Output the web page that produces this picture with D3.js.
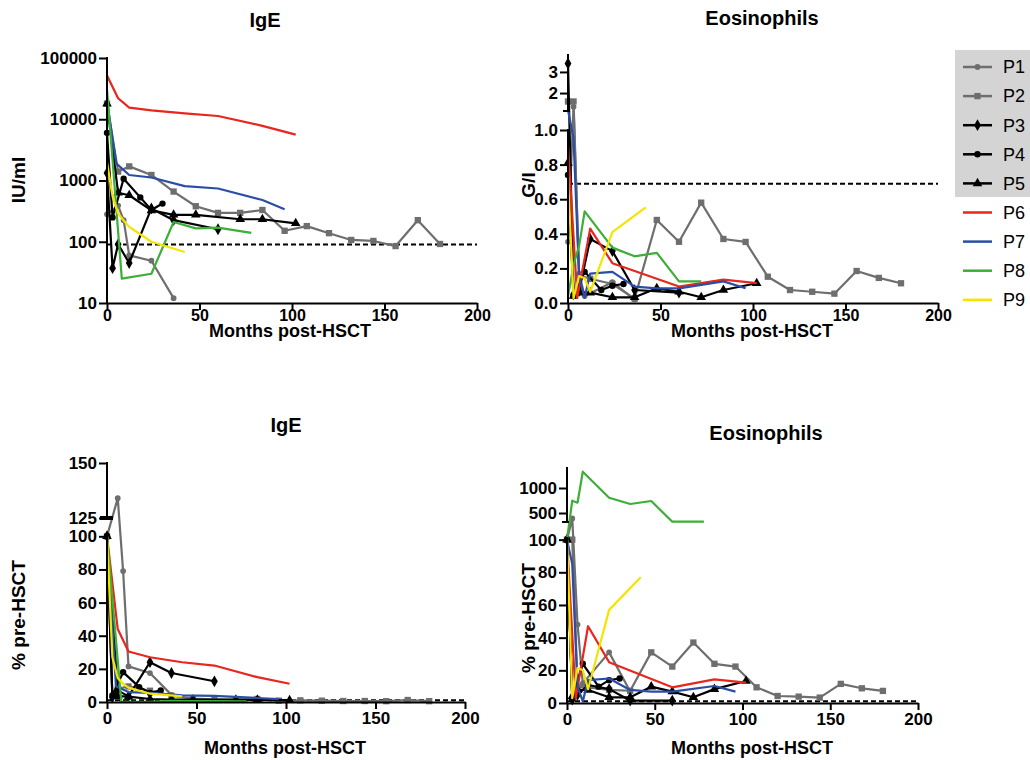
<!DOCTYPE html>
<html><head><meta charset="utf-8">
<script src="https://cdn.jsdelivr.net/npm/d3@7"></script>
<style>body{margin:0;background:#fff}svg{font-family:"Liberation Sans",Arial,sans-serif}</style>
</head><body><svg id="c" width="1030" height="760"></svg>
<script>
const patients = ["P1","P2","P3","P4","P5","P6","P7","P8","P9"];
const tickX = [0,50,100,150,200];
const ticksIgeIU = [10,100,1000,10000,100000];
const ticksEosLow = [0,0.2,0.4,0.6,0.8,1.0];
const ticksEosHigh = [2,3];
const ticksPctLow = [0,20,40,60,80,100];
const ticksIgePctHigh = [125,150];
const ticksEosPctHigh = [500,1000];
const refIgeIU = 90, refEosGL = 0.69, refPct = 1;

// IgE, IU/ml : [month, value]
const igeIU = [
  [[0,280],[6,390],[9,225],[12,60],[24,49],[36,12]],
  [[0,18000],[6,1400],[12,1700],[24,1230],[36,660],[48,380],[60,296],[72,296],[84,330],[96,151],[108,180],[120,138],[132,107],[144,103],[156,85],[168,225],[180,92]],
  [[0,1320],[3,37],[6,91],[12,45],[24,350],[36,225],[60,160]],
  [[0,6000],[3,250],[9,1070],[18,530],[24,330],[30,420]],
  [[0,18000],[6,630],[12,575],[24,325],[36,275],[48,275],[72,233],[84,233],[102,200]],
  [[0,52000],[6,22000],[12,15500],[24,14000],[42,12500],[60,11300],[84,7800],[102,5600]],
  [[0,20000],[5,1900],[12,1230],[24,1120],[42,810],[60,740],[84,480],[96,340]],
  [[0,31000],[8,25],[24,30],[36,210],[48,165],[60,170],[78,140]],
  [[0,2000],[3,550],[6,290],[9,222],[12,175],[24,100],[42,68]]
];
// Eosinophils, G/l
const eosGL = [
  [[0,0.354],[3,1.35],[6,0.17],[9,0.04],[24,0.12],[36,0.02]],
  [[0,1.6],[3,1.6],[6,0.16],[12,0.14],[24,0.11],[36,0.025],[48,0.48],[60,0.354],[72,0.58],[84,0.37],[96,0.353],[108,0.152],[120,0.075],[132,0.065],[144,0.054],[156,0.185],[168,0.145],[180,0.114]],
  [[0,3.4],[3,0.05],[6,0.07],[12,0.37],[24,0.30],[36,0.075],[60,0.06]],
  [[0,0.74],[3,0.04],[9,0.18],[18,0.075],[24,0.10],[30,0.11]],
  [[0,0.81],[3,0.04],[6,0.06],[12,0.06],[24,0.033],[36,0.033],[48,0.085],[60,0.065],[72,0.033],[84,0.075],[102,0.114]],
  [[0,0.91],[5,0.03],[12,0.43],[24,0.23],[60,0.095],[84,0.135],[102,0.115]],
  [[0,1.2],[3,0.95],[6,0.15],[9,0.03],[12,0.17],[24,0.18],[36,0.095],[48,0.085],[60,0.085],[84,0.125],[96,0.085]],
  [[0,0.04],[3,0.22],[6,0.33],[9,0.53],[24,0.32],[36,0.27],[48,0.29],[60,0.125],[72,0.125]],
  [[0,0.73],[3,0.027],[6,0.156],[9,0.143],[12,0.065],[24,0.41],[42,0.553]]
];
// IgE, % pre-HSCT
const igePct = [
  [[0,100],[6,134],[9,79],[12,21.5],[24,17.5],[36,4.3]],
  [[0,100],[6,8],[12,9.4],[24,6.8],[36,3.7],[48,2.1],[60,1.6],[72,1.6],[84,1.8],[96,0.8],[108,1],[120,0.8],[132,0.6],[144,0.6],[156,0.5],[168,1.2],[180,0.5]],
  [[0,100],[3,2.8],[6,7],[12,3.4],[24,24],[36,17.5],[60,12.5]],
  [[0,100],[3,4],[9,18],[18,9],[24,5.5],[30,7]],
  [[0,100],[6,3.5],[12,3.2],[24,1.8],[36,1.5],[48,1.5],[72,1.3],[84,1.3],[102,1.1]],
  [[0,100],[6,44],[12,30.5],[24,27],[42,24],[60,22],[84,15],[102,11]],
  [[0,100],[5,9.5],[12,6],[24,5.5],[42,4],[60,3.7],[84,2.4],[96,1.7]],
  [[0,100],[8,0.1],[24,0.1],[36,0.7],[48,0.5],[60,0.55],[78,0.45]],
  [[0,100],[3,27],[6,14.5],[9,11],[12,8.7],[24,5],[42,3.4]]
];
// Eosinophils, % pre-HSCT
const eosPct = [
  [[0,100],[3,390],[6,48],[9,12],[24,31],[36,7]],
  [[0,100],[3,100],[6,10],[12,9.5],[24,8],[36,7.5],[48,31],[60,22.3],[72,37],[84,24],[96,22.3],[108,9.6],[120,4.3],[132,3.9],[144,3.3],[156,11.7],[168,9],[180,7.4]],
  [[0,100],[3,2],[6,5],[12,11],[24,8.5],[36,1.5],[60,1.5]],
  [[0,100],[3,3],[9,24],[18,10],[24,14],[30,15]],
  [[0,100],[3,4],[6,8],[12,8],[24,3.5],[36,3.5],[48,10],[60,7],[72,3.5],[84,8.5],[102,13.5]],
  [[0,100],[5,3],[12,47],[24,25],[60,9.6],[84,14.5],[102,12.5]],
  [[0,100],[3,85],[6,10],[9,1],[12,14],[24,15],[36,8],[48,7],[60,7],[84,10.4],[96,7]],
  [[0,100],[3,746],[6,706],[9,1326],[24,806],[36,680],[48,740],[60,326],[78,326]],
  [[0,100],[3,3],[6,21.5],[9,20],[12,8.4],[24,57],[42,77]]
];

const colors = ["#6e6e6e","#6e6e6e","#000000","#000000","#000000","#e8261d","#2a4ea6","#3dae38","#f4e500"];
const markers = [d3.symbolCircle,d3.symbolSquare,d3.symbolDiamond,d3.symbolCircle,d3.symbolTriangle,null,null,null,null];
const markerSizes = [26,40,40,32,40];

const svg = d3.select("#c");

function styleAxis(a, fs){
  a.selectAll("line").attr("stroke","#000").attr("stroke-width",2);
  a.selectAll("path").attr("stroke","#000").attr("stroke-width",2);
  a.selectAll("text").attr("font-size",fs).attr("font-weight","bold").attr("fill","#000")
   .attr("font-family",'"Liberation Sans",Arial,sans-serif');
}

function drawPanel(p){
  const g = svg.append("g");
  const x = d3.scaleLinear().domain([0,200]).range(p.xr);
  const y = p.y;
  const yBase = p.yBase;
  g.append("line").attr("x1",x(0)).attr("x2",x(200)).attr("y1",y(p.ref)).attr("y2",y(p.ref))
    .attr("stroke","#000").attr("stroke-width",2).attr("stroke-dasharray","5,3");
  const line = d3.line().x(d=>x(d[0])).y(d=>y(d[1]));
  p.data.forEach((s,i)=>{
    g.append("path").attr("d",line(s)).attr("fill","none").attr("stroke",colors[i])
      .attr("stroke-width",2.2).attr("stroke-linejoin","round");
    if(markers[i]){
      g.selectAll(null).data(s).enter().append("path")
        .attr("d",d3.symbol().type(markers[i]).size(markerSizes[i]))
        .attr("transform",d=>`translate(${x(d[0])},${y(d[1])})`)
        .attr("fill",colors[i]);
    }
  });
  const xa = g.append("g").attr("transform",`translate(0,${yBase})`)
    .call(d3.axisBottom(x).tickValues(tickX).tickSize(7).tickPadding(p.xPad).tickSizeOuter(0));
  styleAxis(xa, p.xFont);
  p.segs.forEach(sg=>{
    const ya = g.append("g").attr("transform",`translate(${p.xr[0]},0)`)
      .call(d3.axisLeft(y).tickValues(sg.ticks).tickFormat(sg.fmt).tickSize(8).tickPadding(2));
    ya.select(".domain").remove();
    styleAxis(ya, 17);
    g.append("line").attr("x1",p.xr[0]).attr("x2",p.xr[0]).attr("y1",sg.from).attr("y2",sg.to)
      .attr("stroke","#000").attr("stroke-width",2);
    if(sg.breakMark){
      g.append("line").attr("x1",p.xr[0]-sg.breakMark[0]).attr("x2",p.xr[0]+sg.breakMark[1])
        .attr("y1",sg.from).attr("y2",sg.from).attr("stroke","#000").attr("stroke-width",sg.breakMark[2]);
    }
  });
  g.append("text").attr("x",p.title[1]).attr("y",p.title[2]).attr("text-anchor","middle")
    .attr("font-size",20).attr("font-weight","bold").text(p.title[0]);
  g.append("text").attr("x",p.xlab[0]).attr("y",p.xlab[1]).attr("text-anchor","middle")
    .attr("font-size",18).attr("font-weight","bold").text("Months post-HSCT");
  g.append("text").attr("transform",`translate(${p.ylab[1]},${p.ylab[2]}) rotate(-90)`)
    .attr("text-anchor","middle").attr("font-size",19).attr("font-weight","bold").text(p.ylab[0]);
}

drawPanel({
  xr:[107,477], y:d3.scaleLog().domain([10,100000]).range([303,58]), yBase:303, xPad:0, xFont:16,
  ref:refIgeIU, data:igeIU,
  segs:[{ticks:ticksIgeIU, fmt:d3.format("d"), from:303, to:57}],
  title:["IgE",265,27], xlab:[290,337], ylab:["IU/ml",25,180]
});
drawPanel({
  xr:[568,938], y:d3.scaleLinear().domain([0,1.0,1.15,3.85]).range([303,130,111,54]), yBase:303, xPad:0, xFont:16,
  ref:refEosGL, data:eosGL,
  segs:[{ticks:ticksEosLow, fmt:d3.format(".1f"), from:303, to:129},
        {ticks:ticksEosHigh, fmt:d3.format("d"), from:111, to:54, breakMark:[5,2,2]}],
  title:["Eosinophils",762,25], xlab:[752,337], ylab:["G/l",535,185]
});
drawPanel({
  xr:[107,465], y:d3.scaleLinear().domain([0,102,125,150]).range([702,533,518,463]), yBase:702, xPad:3, xFont:17,
  ref:refPct, data:igePct,
  segs:[{ticks:ticksPctLow, fmt:d3.format("d"), from:702, to:532},
        {ticks:ticksIgePctHigh, fmt:d3.format("d"), from:518, to:462, breakMark:[7,6,4]}],
  title:["IgE",286,432], xlab:[285,754], ylab:["% pre-HSCT",25,615]
});
drawPanel({
  xr:[567,918], y:d3.scaleLinear().domain([0,101,320,1400]).range([703,538,522,468]), yBase:703, xPad:3, xFont:17,
  ref:refPct, data:eosPct,
  segs:[{ticks:ticksPctLow, fmt:d3.format("d"), from:703, to:537},
        {ticks:ticksEosPctHigh, fmt:d3.format("d"), from:522, to:467, breakMark:[5,2,2]}],
  title:["Eosinophils",766,440], xlab:[752,754], ylab:["% pre-HSCT",535,618]
});

const lg = svg.append("g");
lg.append("rect").attr("x",955).attr("y",50).attr("width",75).attr("height",147).attr("fill","#d4d4d4");
patients.forEach((name,i)=>{
  const yy = 67 + i*29.1;
  lg.append("line").attr("x1",963).attr("x2",992).attr("y1",yy).attr("y2",yy)
    .attr("stroke",colors[i]).attr("stroke-width",2.5);
  if(markers[i]){
    lg.append("path").attr("d",d3.symbol().type(markers[i]).size(markerSizes[i]))
      .attr("transform",`translate(977.5,${yy})`).attr("fill",colors[i]);
  }
  lg.append("text").attr("x",1003).attr("y",yy).attr("dy","0.35em").attr("font-size",18).text(name);
});
</script></body></html>
